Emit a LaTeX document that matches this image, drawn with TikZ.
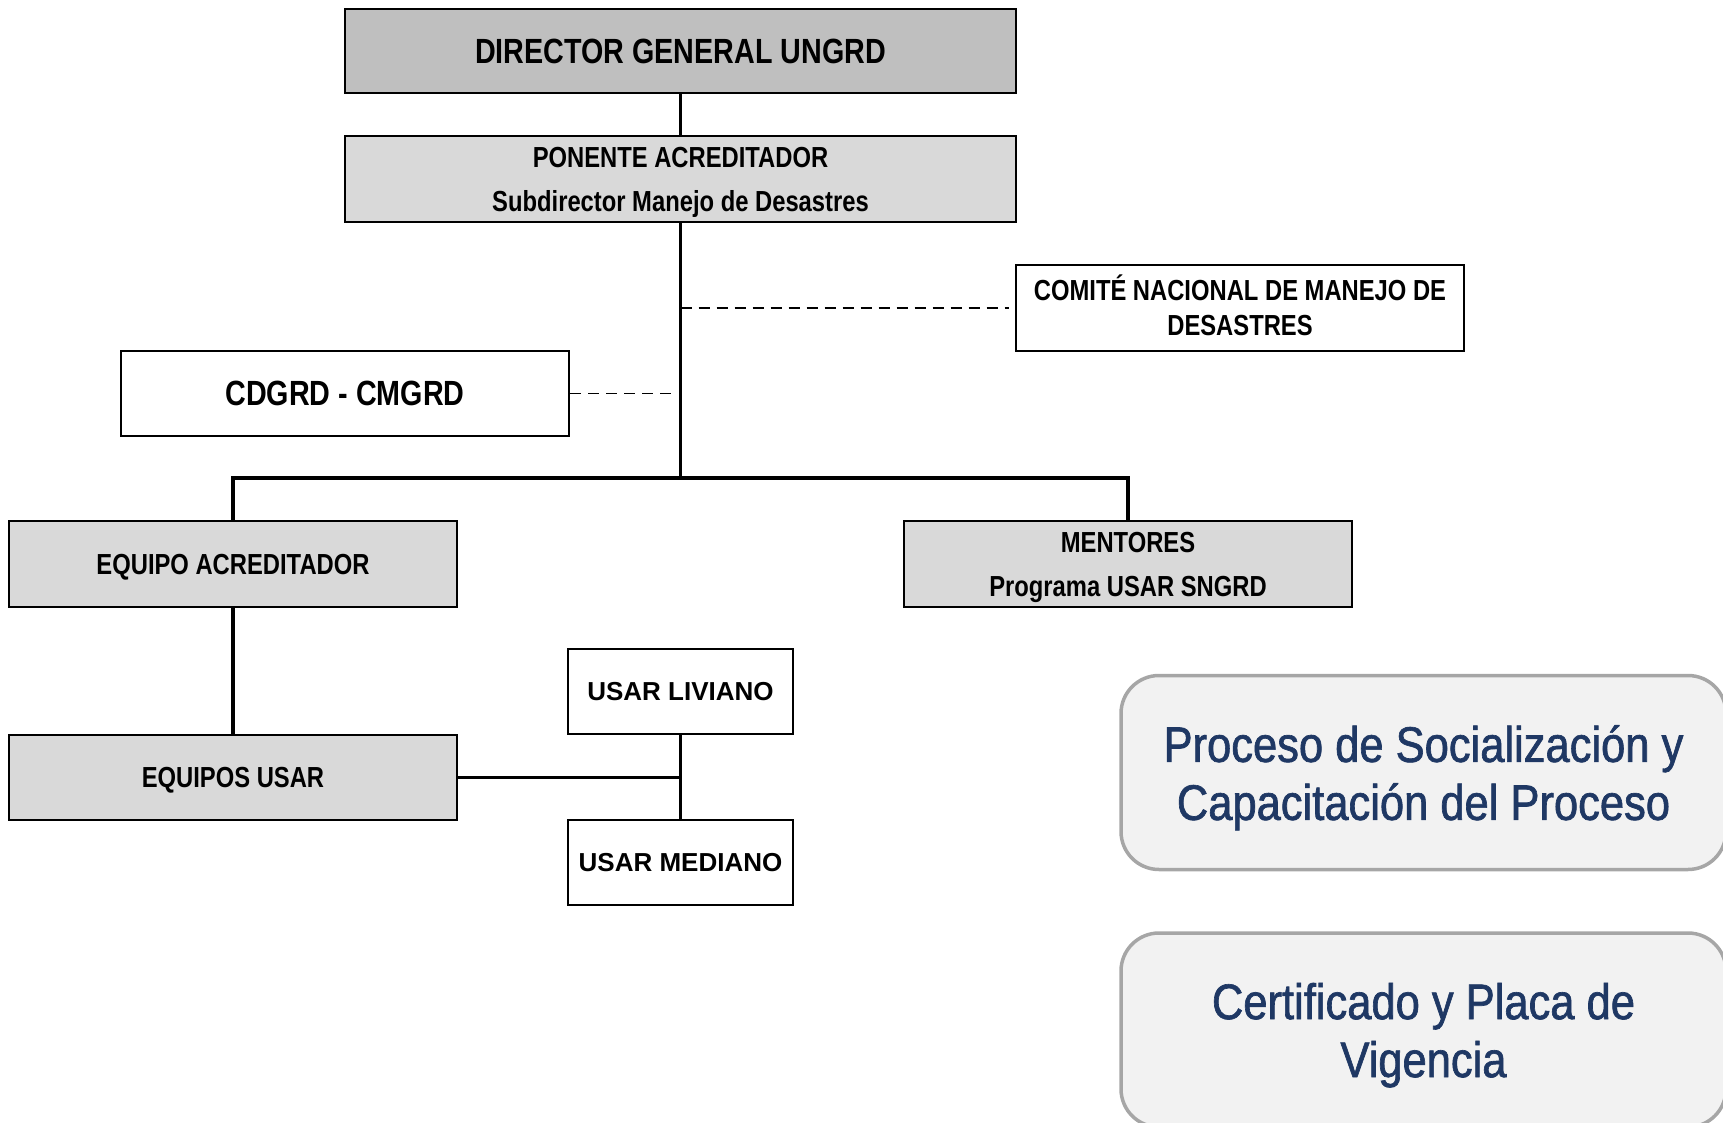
\documentclass[tikz,border=0pt]{standalone}
\usepackage{fontspec}
\setmainfont{Liberation Sans}
\newfontfamily\narrowfont{Liberation Sans}[FakeStretch=0.82]
\newfontfamily\panelfont{Liberation Sans}[FakeStretch=0.87, FakeBold=1.3]
\usepackage{tikz}
\usetikzlibrary{positioning, calc}
\definecolor{boxgray}{HTML}{D9D9D9}
\definecolor{topgray}{HTML}{BFBFBF}
\definecolor{panelfill}{HTML}{F2F2F2}
\definecolor{panelborder}{HTML}{A6A6A6}
\definecolor{panelblue}{HTML}{1F3864}

\tikzset{
  orgbox/.style={draw=black, line width=2.8pt, inner sep=0pt, align=center,
    minimum width=448pt, minimum height=86pt, text depth=-2pt,
    font=\narrowfont\bfseries\fontsize{29}{44}\selectfont},
  usarbox/.style={orgbox, minimum width=225pt, minimum height=85pt, text depth=0pt,
    font=\bfseries\fontsize{26}{30}\selectfont},
  panel/.style={draw=panelborder, fill=panelfill, line width=3.5pt, rounded corners=38pt,
    inner sep=0pt, align=center, minimum width=605pt, minimum height=194pt,
    text depth=-2.6pt, text=panelblue, font=\panelfont\fontsize{50}{58}\selectfont},
  orgline/.style={line width=3.2pt},
  dashline/.style={line width=1.9pt, dash pattern=on 11pt off 7pt}
}

\begin{document}
\begin{tikzpicture}[x=1pt, y=-1pt]
  \useasboundingbox (0,0) rectangle (1723,1123);

  % Top of the chart
  \node[orgbox, fill=topgray, minimum width=671pt, minimum height=84pt, text depth=0pt,
        font=\narrowfont\bfseries\fontsize{35}{40}\selectfont] (director) at (680.5, 51) {DIRECTOR GENERAL UNGRD};
  \node[orgbox, fill=boxgray, minimum width=671pt, text depth=-4pt] (ponente) at (680.5, 179) {PONENTE ACREDITADOR\\Subdirector Manejo de Desastres};

  % Advisory bodies (dashed links)
  \node[orgbox, fill=white, text depth=6pt,
        font=\narrowfont\bfseries\fontsize{29}{35}\selectfont] (comite) at (1240, 308) {COMITÉ NACIONAL DE MANEJO DE\\DESASTRES};
  \node[orgbox, fill=white, minimum height=85pt, text depth=0pt,
        font=\narrowfont\bfseries\fontsize{35}{40}\selectfont] (cdgrd) at (345, 393.5) {CDGRD - CMGRD};

  % Second level
  \node[orgbox, fill=boxgray] (equipo) at (233, 564) {EQUIPO ACREDITADOR};
  \node[orgbox, fill=boxgray] (mentores) at (1128, 564) {MENTORES\\Programa USAR SNGRD};
  \node[orgbox, fill=boxgray, minimum height=85pt] (equipos) at (233, 777.5) {EQUIPOS USAR};

  % USAR classes
  \node[usarbox, fill=white] (liviano) at (680.5, 691.5) {USAR LIVIANO};
  \node[usarbox, fill=white] (mediano) at (680.5, 862.5) {USAR MEDIANO};

  % Side panels - cut by the page edge
  \node[panel] (socializacion) at (1423.5, 772.5) {Proceso de Socialización y\\Capacitación del Proceso};
  \node[panel] (certificado) at (1423.5, 1030) {Certificado y Placa de\\Vigencia};

  % Solid connectors
  \coordinate (bus) at (680.5, 478);
  \draw[orgline] (director) -- (ponente);
  \draw[orgline] (ponente) -- (bus);
  \draw[orgline] (equipo.north) |- (bus) -| (mentores.north);
  \draw[orgline] (equipo) -- (equipos);
  \draw[orgline] (liviano) -- (mediano);
  \draw[orgline] (equipos.east) -- (equipos.east -| liviano.south);

  % Dashed connectors
  \draw[dashline, shorten >=6pt] (ponente.south |- comite.west) -- (comite.west);
  \draw[dashline, shorten >=8pt] (cdgrd.east) -- (cdgrd.east -| ponente.south);
\end{tikzpicture}
\end{document}
